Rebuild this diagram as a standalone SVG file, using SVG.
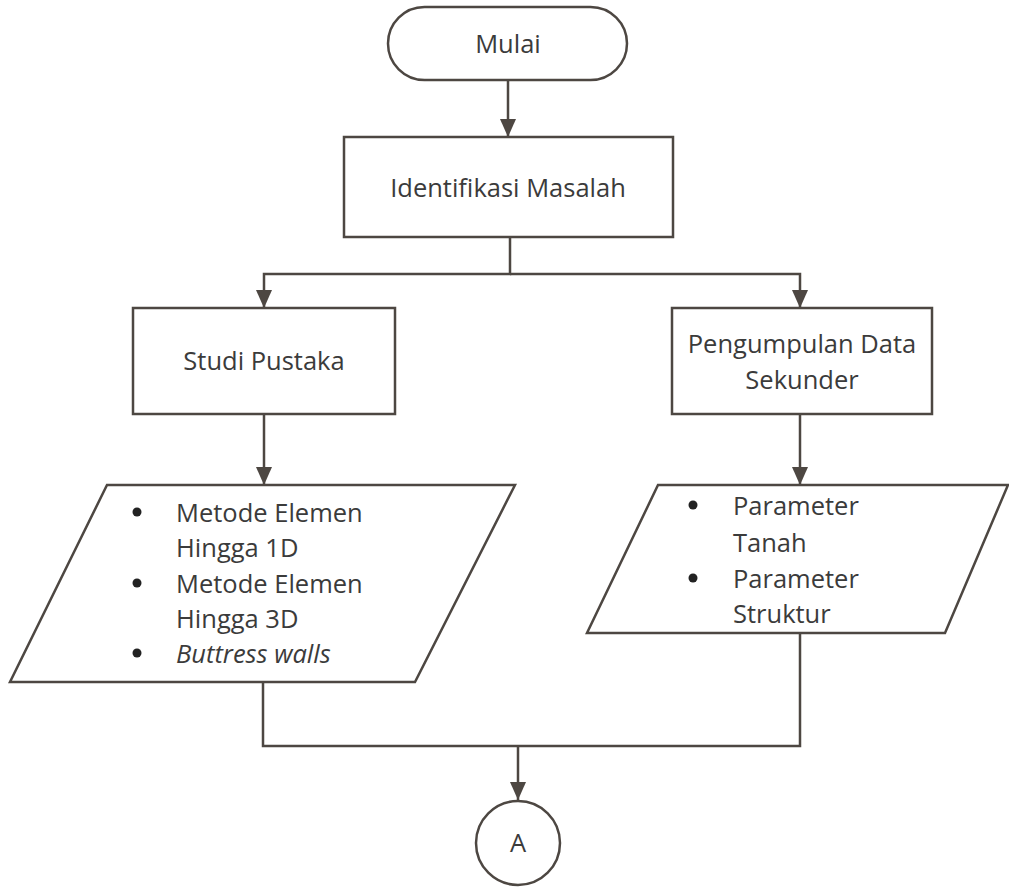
<svg xmlns="http://www.w3.org/2000/svg" width="1009" height="888" viewBox="0 0 1009 888">
<style>
.s{fill:#fff;stroke:#4d4742;stroke-width:2.5}
.c{fill:none;stroke:#4d4742;stroke-width:2.5}
text{font-family:"Open Sans","Noto Sans",sans-serif;font-size:25.5px;fill:#3b3b3b}
.m{text-anchor:middle}
</style>
<defs>
<marker id="a" markerWidth="18" markerHeight="16" refX="18" refY="8" orient="auto" markerUnits="userSpaceOnUse" viewBox="0 0 18 16">
<path d="M0,0 L18,8 L0,16 Z" fill="#4d4742"/>
</marker>
</defs>
<g id="connectors">
<line class="c" x1="508" y1="80" x2="508" y2="137" marker-end="url(#a)"/>
<polyline class="c" points="510,237 510,274 264,274 264,308" marker-end="url(#a)"/>
<polyline class="c" points="510,274 800,274 800,308" marker-end="url(#a)"/>
<line class="c" x1="264" y1="414" x2="264" y2="485" marker-end="url(#a)"/>
<line class="c" x1="800" y1="414" x2="800" y2="485" marker-end="url(#a)"/>
<polyline class="c" points="263,682 263,746 800,746 800,633"/>
<line class="c" x1="518" y1="746" x2="518" y2="800" marker-end="url(#a)"/>
</g>
<g id="mulai">
<rect class="s" x="388" y="7" width="239" height="73" rx="36.5"/>
<text class="m" x="508" y="53">Mulai</text>
</g>
<g id="identifikasi">
<rect class="s" x="344" y="137" width="329" height="100"/>
<text class="m" x="508" y="197">Identifikasi Masalah</text>
</g>
<g id="studi">
<rect class="s" x="133" y="308" width="262" height="106"/>
<text class="m" x="264" y="370">Studi Pustaka</text>
</g>
<g id="pengumpulan">
<rect class="s" x="672" y="308" width="260" height="106"/>
<text class="m" x="802" y="353">Pengumpulan Data</text>
<text class="m" x="802" y="389">Sekunder</text>
</g>
<g id="studi-list">
<polygon class="s" points="107,485 515,485 415,682 10,682"/>
<circle cx="137" cy="512" r="4.5" fill="#222"/>
<text x="176" y="522">Metode Elemen</text>
<text x="176" y="557">Hingga 1D</text>
<circle cx="137" cy="583" r="4.5" fill="#222"/>
<text x="176" y="593">Metode Elemen</text>
<text x="176" y="628">Hingga 3D</text>
<circle cx="137" cy="653" r="4.5" fill="#222"/>
<text x="176" y="663" font-style="italic">Buttress walls</text>
</g>
<g id="data-list">
<polygon class="s" points="658,485 1008,485 945,633 587,633"/>
<circle cx="693" cy="505" r="4.5" fill="#222"/>
<text x="733" y="515">Parameter</text>
<text x="733" y="552">Tanah</text>
<circle cx="693" cy="578" r="4.5" fill="#222"/>
<text x="733" y="588">Parameter</text>
<text x="733" y="623">Struktur</text>
</g>
<g id="connector-a">
<circle class="s" cx="518" cy="843" r="42"/>
<text class="m" x="518" y="852">A</text>
</g>
</svg>
